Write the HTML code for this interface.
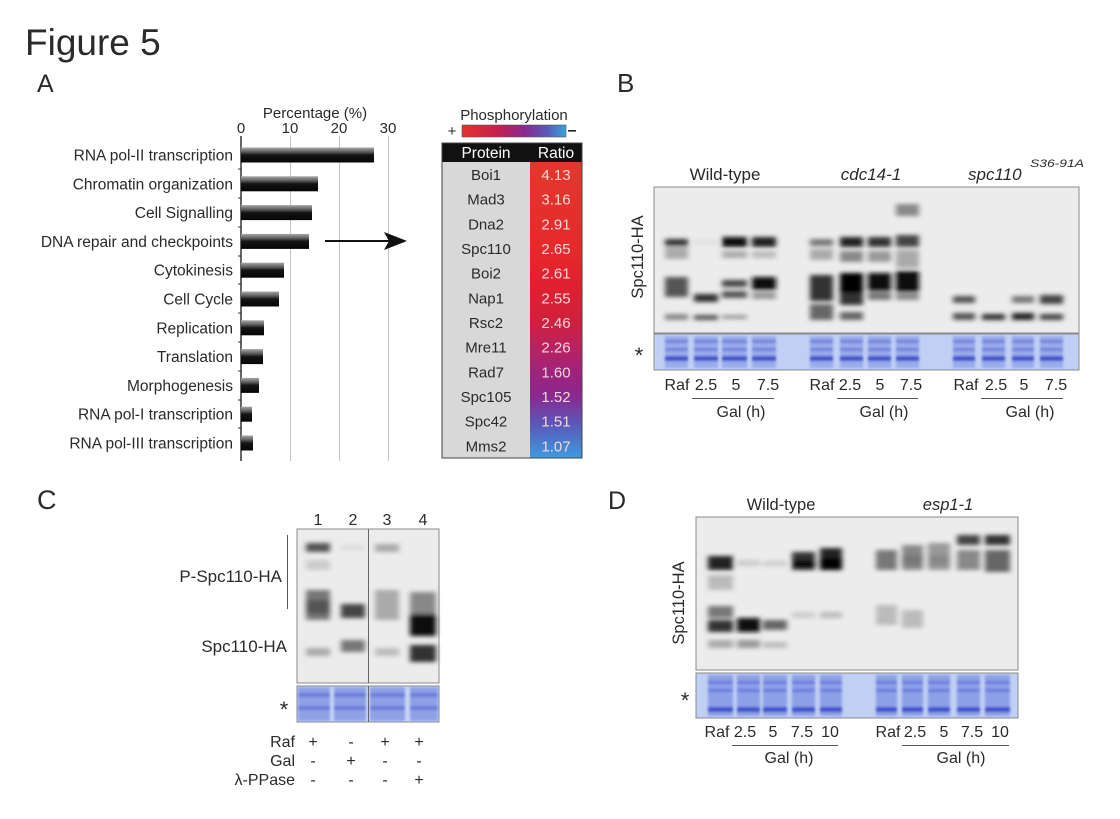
<!DOCTYPE html>
<html><head><meta charset="utf-8"><style>
html,body{margin:0;padding:0;background:#fff;}
svg{display:block;}
text{font-family:"Liberation Sans",sans-serif;fill:#2a2a2a;}
</style></head><body>
<svg width="1120" height="819" viewBox="0 0 1120 819" xmlns="http://www.w3.org/2000/svg">
<defs>
<linearGradient id="bar" x1="0" y1="0" x2="0" y2="1">
<stop offset="0" stop-color="#a8a8a8"/><stop offset="0.3" stop-color="#5a5a5a"/><stop offset="0.5" stop-color="#141414"/><stop offset="1" stop-color="#050505"/>
</linearGradient>
<linearGradient id="cbar" x1="0" y1="0" x2="1" y2="0">
<stop offset="0" stop-color="#e4342a"/><stop offset="0.35" stop-color="#c4204e"/><stop offset="0.6" stop-color="#8a2890"/><stop offset="0.82" stop-color="#5a5ab8"/><stop offset="1" stop-color="#3aa2de"/>
</linearGradient>
<linearGradient id="ratio" x1="0" y1="0" x2="0" y2="1">
<stop offset="0" stop-color="#e2382c"/><stop offset="0.3" stop-color="#e52a2a"/><stop offset="0.4" stop-color="#e2202e"/><stop offset="0.54" stop-color="#d0203e"/><stop offset="0.63" stop-color="#b82262"/><stop offset="0.71" stop-color="#a0227a"/><stop offset="0.79" stop-color="#8a2890"/><stop offset="0.88" stop-color="#5d55b5"/><stop offset="1" stop-color="#3c9be0"/>
</linearGradient>
<filter id="b" x="-40%" y="-150%" width="180%" height="400%"><feGaussianBlur stdDeviation="2.6 2.2"/></filter>
<filter id="b2" x="-30%" y="-100%" width="160%" height="300%"><feGaussianBlur stdDeviation="1.3"/></filter>
</defs>

<!-- Panel A -->
<text x="25" y="55" font-size="37">Figure 5</text>
<text x="37" y="92" font-size="25">A</text>
<text x="315" y="118" font-size="15" text-anchor="middle">Percentage (%)</text>
<g font-size="15" text-anchor="middle">
<text x="241" y="133">0</text><text x="290" y="133">10</text><text x="339" y="133">20</text><text x="388" y="133">30</text>
</g>
<g stroke="#c4c4c4" stroke-width="1">
<line x1="290.5" y1="136" x2="290.5" y2="461"/><line x1="339.5" y1="136" x2="339.5" y2="461"/><line x1="388.5" y1="136" x2="388.5" y2="461"/>
</g>
<line x1="241" y1="136" x2="241" y2="461" stroke="#333" stroke-width="1.5"/>
<g stroke="#333" stroke-width="1">
<line x1="238" y1="169" x2="241" y2="169"/><line x1="238" y1="198" x2="241" y2="198"/><line x1="238" y1="227" x2="241" y2="227"/><line x1="238" y1="256" x2="241" y2="256"/><line x1="238" y1="284" x2="241" y2="284"/><line x1="238" y1="313" x2="241" y2="313"/><line x1="238" y1="342" x2="241" y2="342"/><line x1="238" y1="371" x2="241" y2="371"/><line x1="238" y1="400" x2="241" y2="400"/><line x1="238" y1="428" x2="241" y2="428"/>
</g>
<g fill="url(#bar)">
<rect x="241" y="147.5" width="133" height="15"/>
<rect x="241" y="176.3" width="77" height="15"/>
<rect x="241" y="205.1" width="71" height="15"/>
<rect x="241" y="233.9" width="68" height="15"/>
<rect x="241" y="262.7" width="43" height="15"/>
<rect x="241" y="291.5" width="38" height="15"/>
<rect x="241" y="320.3" width="23" height="15"/>
<rect x="241" y="349.1" width="22" height="15"/>
<rect x="241" y="377.9" width="18" height="15"/>
<rect x="241" y="406.7" width="11" height="15"/>
<rect x="241" y="435.5" width="12" height="15"/>
</g>
<g font-size="15.5" text-anchor="end">
<text x="233" y="160.5">RNA pol-II transcription</text>
<text x="233" y="189.3">Chromatin organization</text>
<text x="233" y="218.1">Cell Signalling</text>
<text x="233" y="246.9">DNA repair and checkpoints</text>
<text x="233" y="275.7">Cytokinesis</text>
<text x="233" y="304.5">Cell Cycle</text>
<text x="233" y="333.3">Replication</text>
<text x="233" y="362.1">Translation</text>
<text x="233" y="390.9">Morphogenesis</text>
<text x="233" y="419.7">RNA pol-I transcription</text>
<text x="233" y="448.5">RNA pol-III transcription</text>
</g>
<line x1="325" y1="241" x2="392" y2="241" stroke="#111" stroke-width="2"/>
<polygon points="384,232 407,241 384,250 389,241" fill="#111"/>

<!-- Table -->
<text x="514" y="120" font-size="15" text-anchor="middle">Phosphorylation</text>
<text x="452" y="136" font-size="15" text-anchor="middle">+</text>
<rect x="568" y="130" width="8" height="1.6" fill="#222"/>
<rect x="462" y="125" width="104" height="12" fill="url(#cbar)" stroke="#555" stroke-width="0.6"/>
<rect x="442" y="143" width="140" height="19" fill="#111"/>
<rect x="442" y="162" width="88" height="296" fill="#d8d8d8"/>
<rect x="530" y="162" width="52" height="296" fill="url(#ratio)"/>
<rect x="442" y="143" width="140" height="315" fill="none" stroke="#444" stroke-width="1"/>
<text x="486" y="158" font-size="15.5" text-anchor="middle" style="fill:#fff">Protein</text>
<text x="556" y="158" font-size="15.5" text-anchor="middle" style="fill:#fff">Ratio</text>
<g font-size="15" text-anchor="middle">
<text x="486" y="180">Boi1</text><text x="486" y="204.7">Mad3</text><text x="486" y="229.4">Dna2</text><text x="486" y="254">Spc110</text><text x="486" y="278.7">Boi2</text><text x="486" y="303.4">Nap1</text><text x="486" y="328">Rsc2</text><text x="486" y="352.7">Mre11</text><text x="486" y="377.4">Rad7</text><text x="486" y="402">Spc105</text><text x="486" y="426.7">Spc42</text><text x="486" y="451.4">Mms2</text>
</g>
<g font-size="15" text-anchor="middle">
<text x="556" y="180" style="fill:#f6d8dc">4.13</text><text x="556" y="204.7" style="fill:#f6d8dc">3.16</text><text x="556" y="229.4" style="fill:#f6d8dc">2.91</text><text x="556" y="254" style="fill:#f6d8dc">2.65</text><text x="556" y="278.7" style="fill:#f6d8dc">2.61</text><text x="556" y="303.4" style="fill:#f6d8dc">2.55</text><text x="556" y="328" style="fill:#f6d8dc">2.46</text><text x="556" y="352.7" style="fill:#f6d8dc">2.26</text><text x="556" y="377.4" style="fill:#f6d8dc">1.60</text><text x="556" y="402" style="fill:#f6d8dc">1.52</text><text x="556" y="426.7" style="fill:#f6d8dc">1.51</text><text x="556" y="451.4" style="fill:#f6d8dc">1.07</text>
</g>

<!-- Panel B -->
<text x="617" y="92" font-size="26">B</text>
<text x="725" y="180" font-size="17" text-anchor="middle">Wild-type</text>
<text x="871" y="180" font-size="17" text-anchor="middle" font-style="italic">cdc14-1</text>
<text x="968" y="180" font-size="17" font-style="italic">spc110</text>
<text x="1030" y="167" font-size="11" font-style="italic" textLength="54" lengthAdjust="spacingAndGlyphs">S36-91A</text>
<rect x="654" y="187" width="425" height="146" fill="#ececec" stroke="#8a8a8a"/>
<g filter="url(#b)">
<!-- WT -->
<rect x="665" y="239" width="23" height="7" fill="#333"/><rect x="665" y="247" width="23" height="12" fill="#aaa"/><rect x="665" y="277" width="23" height="20" fill="#555"/><rect x="665" y="314" width="23" height="6" fill="#888"/>
<rect x="694" y="240" width="24" height="4" fill="#ddd"/><rect x="694" y="294" width="24" height="8" fill="#333"/><rect x="694" y="315" width="24" height="5" fill="#555"/>
<rect x="722" y="237" width="25" height="10" fill="#111"/><rect x="722" y="251" width="25" height="7" fill="#aaa"/><rect x="722" y="280" width="25" height="7" fill="#444"/><rect x="722" y="291" width="25" height="7" fill="#555"/><rect x="722" y="315" width="25" height="4" fill="#999"/>
<rect x="752" y="237" width="24" height="10" fill="#222"/><rect x="752" y="251" width="24" height="7" fill="#bbb"/><rect x="752" y="277" width="24" height="13" fill="#111"/><rect x="752" y="292" width="24" height="7" fill="#999"/>
<!-- cdc14 -->
<rect x="810" y="239" width="23" height="7" fill="#777"/><rect x="810" y="249" width="23" height="11" fill="#aaa"/><rect x="810" y="275" width="23" height="26" fill="#333"/><rect x="810" y="304" width="23" height="16" fill="#666"/>
<rect x="840" y="237" width="23" height="10" fill="#222"/><rect x="840" y="251" width="23" height="11" fill="#888"/><rect x="840" y="273" width="23" height="20" fill="#000"/><rect x="840" y="293" width="23" height="12" fill="#333"/><rect x="840" y="312" width="23" height="8" fill="#666"/>
<rect x="868" y="237" width="23" height="10" fill="#333"/><rect x="868" y="251" width="23" height="11" fill="#999"/><rect x="868" y="273" width="23" height="18" fill="#111"/><rect x="868" y="292" width="23" height="8" fill="#777"/>
<rect x="896" y="204" width="23" height="12" fill="#888"/><rect x="896" y="235" width="23" height="12" fill="#444"/><rect x="896" y="250" width="23" height="18" fill="#aaa"/><rect x="896" y="271" width="23" height="21" fill="#111"/><rect x="896" y="293" width="23" height="7" fill="#888"/>
<!-- spc110 -->
<rect x="953" y="296" width="22" height="7" fill="#555"/><rect x="953" y="313" width="22" height="7" fill="#555"/>
<rect x="982" y="314" width="23" height="6" fill="#333"/>
<rect x="1012" y="296" width="22" height="7" fill="#777"/><rect x="1012" y="313" width="22" height="7" fill="#222"/>
<rect x="1040" y="295" width="23" height="9" fill="#444"/><rect x="1040" y="314" width="23" height="6" fill="#444"/>
</g>
<rect x="654" y="334" width="425" height="36" fill="#c0cff4" stroke="#8a8a8a"/>
<g filter="url(#b2)">
<g fill="#9aabea">
<rect x="665" y="336" width="23" height="32"/><rect x="694" y="336" width="24" height="32"/><rect x="722" y="336" width="25" height="32"/><rect x="752" y="336" width="24" height="32"/>
<rect x="810" y="336" width="23" height="32"/><rect x="840" y="336" width="23" height="32"/><rect x="868" y="336" width="23" height="32"/><rect x="896" y="336" width="23" height="32"/>
<rect x="953" y="336" width="22" height="32"/><rect x="982" y="336" width="23" height="32"/><rect x="1012" y="336" width="22" height="32"/><rect x="1040" y="336" width="23" height="32"/>
</g>
<g fill="#6e80dd">
<rect x="665" y="340" width="23" height="3"/><rect x="694" y="340" width="24" height="3"/><rect x="722" y="340" width="25" height="3"/><rect x="752" y="340" width="24" height="3"/><rect x="810" y="340" width="23" height="3"/><rect x="840" y="340" width="23" height="3"/><rect x="868" y="340" width="23" height="3"/><rect x="896" y="340" width="23" height="3"/><rect x="953" y="340" width="22" height="3"/><rect x="982" y="340" width="23" height="3"/><rect x="1012" y="340" width="22" height="3"/><rect x="1040" y="340" width="23" height="3"/>
<rect x="665" y="348" width="23" height="3"/><rect x="694" y="348" width="24" height="3"/><rect x="722" y="348" width="25" height="3"/><rect x="752" y="348" width="24" height="3"/><rect x="810" y="348" width="23" height="3"/><rect x="840" y="348" width="23" height="3"/><rect x="868" y="348" width="23" height="3"/><rect x="896" y="348" width="23" height="3"/><rect x="953" y="348" width="22" height="3"/><rect x="982" y="348" width="23" height="3"/><rect x="1012" y="348" width="22" height="3"/><rect x="1040" y="348" width="23" height="3"/>
</g>
<g fill="#3d52cc">
<rect x="665" y="356" width="23" height="5"/><rect x="694" y="356" width="24" height="5"/><rect x="722" y="356" width="25" height="5"/><rect x="752" y="356" width="24" height="5"/><rect x="810" y="356" width="23" height="5"/><rect x="840" y="356" width="23" height="5"/><rect x="868" y="356" width="23" height="5"/><rect x="896" y="356" width="23" height="5"/><rect x="953" y="356" width="22" height="5"/><rect x="982" y="356" width="23" height="5"/><rect x="1012" y="356" width="22" height="5"/><rect x="1040" y="356" width="23" height="5"/>
</g>
</g>
<text transform="translate(643,257) rotate(-90)" font-size="16.5" text-anchor="middle">Spc110-HA</text>
<text x="639" y="363" font-size="22" text-anchor="middle">*</text>
<g font-size="16" text-anchor="middle">
<text x="677" y="390">Raf</text><text x="706" y="390">2.5</text><text x="736" y="390">5</text><text x="768" y="390">7.5</text>
<text x="822" y="390">Raf</text><text x="850" y="390">2.5</text><text x="880" y="390">5</text><text x="911" y="390">7.5</text>
<text x="966" y="390">Raf</text><text x="996" y="390">2.5</text><text x="1024" y="390">5</text><text x="1056" y="390">7.5</text>
<text x="741" y="417">Gal (h)</text><text x="884" y="417">Gal (h)</text><text x="1030" y="417">Gal (h)</text>
</g>
<g stroke="#555" stroke-width="1">
<line x1="692" y1="398.5" x2="774" y2="398.5"/><line x1="837" y1="398.5" x2="918" y2="398.5"/><line x1="981" y1="398.5" x2="1063" y2="398.5"/>
</g>

<!-- Panel C -->
<text x="37" y="509" font-size="27">C</text>
<g font-size="16" text-anchor="middle">
<text x="318" y="525">1</text><text x="353" y="525">2</text><text x="387" y="525">3</text><text x="423" y="525">4</text>
</g>
<rect x="297" y="529" width="142" height="154" fill="#ececec" stroke="#8a8a8a"/>
<g filter="url(#b)">
<rect x="306" y="543" width="24" height="9" fill="#555"/><rect x="306" y="560" width="24" height="10" fill="#ccc"/><rect x="306" y="590" width="24" height="30" fill="#777"/><rect x="306" y="600" width="24" height="14" fill="#555"/><rect x="306" y="648" width="24" height="8" fill="#aaa"/>
<rect x="341" y="545" width="24" height="5" fill="#ddd"/><rect x="341" y="604" width="24" height="14" fill="#444"/><rect x="341" y="640" width="24" height="12" fill="#777"/>
<rect x="375" y="544" width="24" height="8" fill="#aaa"/><rect x="375" y="590" width="24" height="30" fill="#aaa"/><rect x="375" y="648" width="24" height="8" fill="#bbb"/>
<rect x="410" y="592" width="26" height="24" fill="#888"/><rect x="410" y="614" width="26" height="22" fill="#111"/><rect x="410" y="645" width="26" height="17" fill="#333"/>
</g>
<line x1="368.5" y1="529" x2="368.5" y2="683" stroke="#666" stroke-width="1"/>
<rect x="297" y="686" width="142" height="36" fill="#c8d6f5" stroke="#8a8a8a"/>
<g filter="url(#b2)">
<g fill="#8fa0e6"><rect x="298" y="687" width="32" height="34"/><rect x="334" y="687" width="32" height="34"/><rect x="370" y="687" width="35" height="34"/><rect x="410" y="687" width="28" height="34"/></g>
<g fill="#6a7cdb"><rect x="298" y="693" width="32" height="4"/><rect x="334" y="693" width="32" height="4"/><rect x="370" y="693" width="35" height="4"/><rect x="410" y="693" width="28" height="4"/>
<rect x="298" y="706" width="32" height="4"/><rect x="334" y="706" width="32" height="4"/><rect x="370" y="706" width="35" height="4"/><rect x="410" y="706" width="28" height="4"/></g>
</g>
<line x1="368.5" y1="686" x2="368.5" y2="722" stroke="#666" stroke-width="1"/>
<line x1="287.5" y1="535" x2="287.5" y2="609" stroke="#555" stroke-width="1"/>
<text x="282" y="582" font-size="17" text-anchor="end">P-Spc110-HA</text>
<text x="287" y="652" font-size="17" text-anchor="end">Spc110-HA</text>
<text x="284" y="717" font-size="22" text-anchor="middle">*</text>
<g font-size="16" text-anchor="end">
<text x="295" y="747">Raf</text><text x="295" y="766">Gal</text><text x="295" y="785">λ-PPase</text>
</g>
<g font-size="16" text-anchor="middle">
<text x="313" y="747">+</text><text x="351" y="747">-</text><text x="385" y="747">+</text><text x="419" y="747">+</text>
<text x="313" y="766">-</text><text x="351" y="766">+</text><text x="385" y="766">-</text><text x="419" y="766">-</text>
<text x="313" y="785">-</text><text x="351" y="785">-</text><text x="385" y="785">-</text><text x="419" y="785">+</text>
</g>

<!-- Panel D -->
<text x="608" y="509" font-size="25">D</text>
<text x="781" y="510" font-size="16.5" text-anchor="middle">Wild-type</text>
<text x="948" y="510" font-size="16.5" text-anchor="middle" font-style="italic">esp1-1</text>
<rect x="696" y="517" width="322" height="153" fill="#ececec" stroke="#8a8a8a"/>
<g filter="url(#b)">
<rect x="708" y="556" width="25" height="14" fill="#222"/><rect x="708" y="575" width="25" height="15" fill="#bbb"/><rect x="708" y="606" width="25" height="12" fill="#777"/><rect x="708" y="620" width="25" height="12" fill="#333"/><rect x="708" y="640" width="25" height="8" fill="#aaa"/>
<rect x="737" y="560" width="23" height="6" fill="#ccc"/><rect x="737" y="618" width="23" height="14" fill="#111"/><rect x="737" y="640" width="23" height="8" fill="#999"/>
<rect x="763" y="561" width="24" height="5" fill="#ccc"/><rect x="763" y="620" width="24" height="10" fill="#666"/><rect x="763" y="642" width="24" height="6" fill="#bbb"/>
<rect x="792" y="552" width="23" height="18" fill="#333"/><rect x="792" y="560" width="23" height="8" fill="#111"/><rect x="792" y="612" width="23" height="6" fill="#ccc"/>
<rect x="820" y="548" width="22" height="22" fill="#222"/><rect x="820" y="558" width="22" height="12" fill="#000"/><rect x="820" y="612" width="22" height="6" fill="#bbb"/>
<rect x="876" y="550" width="21" height="20" fill="#777"/><rect x="876" y="605" width="21" height="20" fill="#bbb"/>
<rect x="902" y="545" width="21" height="25" fill="#888"/><rect x="902" y="555" width="21" height="10" fill="#777"/><rect x="902" y="610" width="21" height="18" fill="#bbb"/>
<rect x="928" y="543" width="22" height="27" fill="#999"/><rect x="928" y="555" width="22" height="10" fill="#888"/>
<rect x="957" y="535" width="23" height="10" fill="#444"/><rect x="957" y="550" width="23" height="20" fill="#888"/>
<rect x="985" y="535" width="25" height="10" fill="#333"/><rect x="985" y="550" width="25" height="22" fill="#666"/>
</g>
<rect x="696" y="673" width="322" height="45" fill="#c0cff4" stroke="#8a8a8a"/>
<g filter="url(#b2)">
<g fill="#8da0e6">
<rect x="708" y="675" width="25" height="41"/><rect x="737" y="675" width="23" height="41"/><rect x="763" y="675" width="24" height="41"/><rect x="792" y="675" width="23" height="41"/><rect x="820" y="675" width="22" height="41"/>
<rect x="876" y="675" width="21" height="41"/><rect x="902" y="675" width="21" height="41"/><rect x="928" y="675" width="22" height="41"/><rect x="957" y="675" width="23" height="41"/><rect x="985" y="675" width="25" height="41"/>
</g>
<g fill="#6a7cdb">
<rect x="708" y="681" width="25" height="3"/><rect x="737" y="681" width="23" height="3"/><rect x="763" y="681" width="24" height="3"/><rect x="792" y="681" width="23" height="3"/><rect x="820" y="681" width="22" height="3"/><rect x="876" y="681" width="21" height="3"/><rect x="902" y="681" width="21" height="3"/><rect x="928" y="681" width="22" height="3"/><rect x="957" y="681" width="23" height="3"/><rect x="985" y="681" width="25" height="3"/>
<rect x="708" y="689" width="25" height="3"/><rect x="737" y="689" width="23" height="3"/><rect x="763" y="689" width="24" height="3"/><rect x="792" y="689" width="23" height="3"/><rect x="820" y="689" width="22" height="3"/><rect x="876" y="689" width="21" height="3"/><rect x="902" y="689" width="21" height="3"/><rect x="928" y="689" width="22" height="3"/><rect x="957" y="689" width="23" height="3"/><rect x="985" y="689" width="25" height="3"/>
</g>
<g fill="#3d52cc">
<rect x="708" y="707" width="25" height="5"/><rect x="737" y="707" width="23" height="5"/><rect x="763" y="707" width="24" height="5"/><rect x="792" y="707" width="23" height="5"/><rect x="820" y="707" width="22" height="5"/><rect x="876" y="707" width="21" height="5"/><rect x="902" y="707" width="21" height="5"/><rect x="928" y="707" width="22" height="5"/><rect x="957" y="707" width="23" height="5"/><rect x="985" y="707" width="25" height="5"/>
</g>
</g>
<text transform="translate(684,603) rotate(-90)" font-size="16.5" text-anchor="middle">Spc110-HA</text>
<text x="685" y="708" font-size="22" text-anchor="middle">*</text>
<g font-size="16" text-anchor="middle">
<text x="717" y="737">Raf</text><text x="745" y="737">2.5</text><text x="773" y="737">5</text><text x="802" y="737">7.5</text><text x="830" y="737">10</text>
<text x="888" y="737">Raf</text><text x="915" y="737">2.5</text><text x="944" y="737">5</text><text x="972" y="737">7.5</text><text x="1000" y="737">10</text>
<text x="789" y="763">Gal (h)</text><text x="961" y="763">Gal (h)</text>
</g>
<g stroke="#555" stroke-width="1">
<line x1="732" y1="745.5" x2="838" y2="745.5"/><line x1="902" y1="745.5" x2="1009" y2="745.5"/>
</g>
</svg>
</body></html>
